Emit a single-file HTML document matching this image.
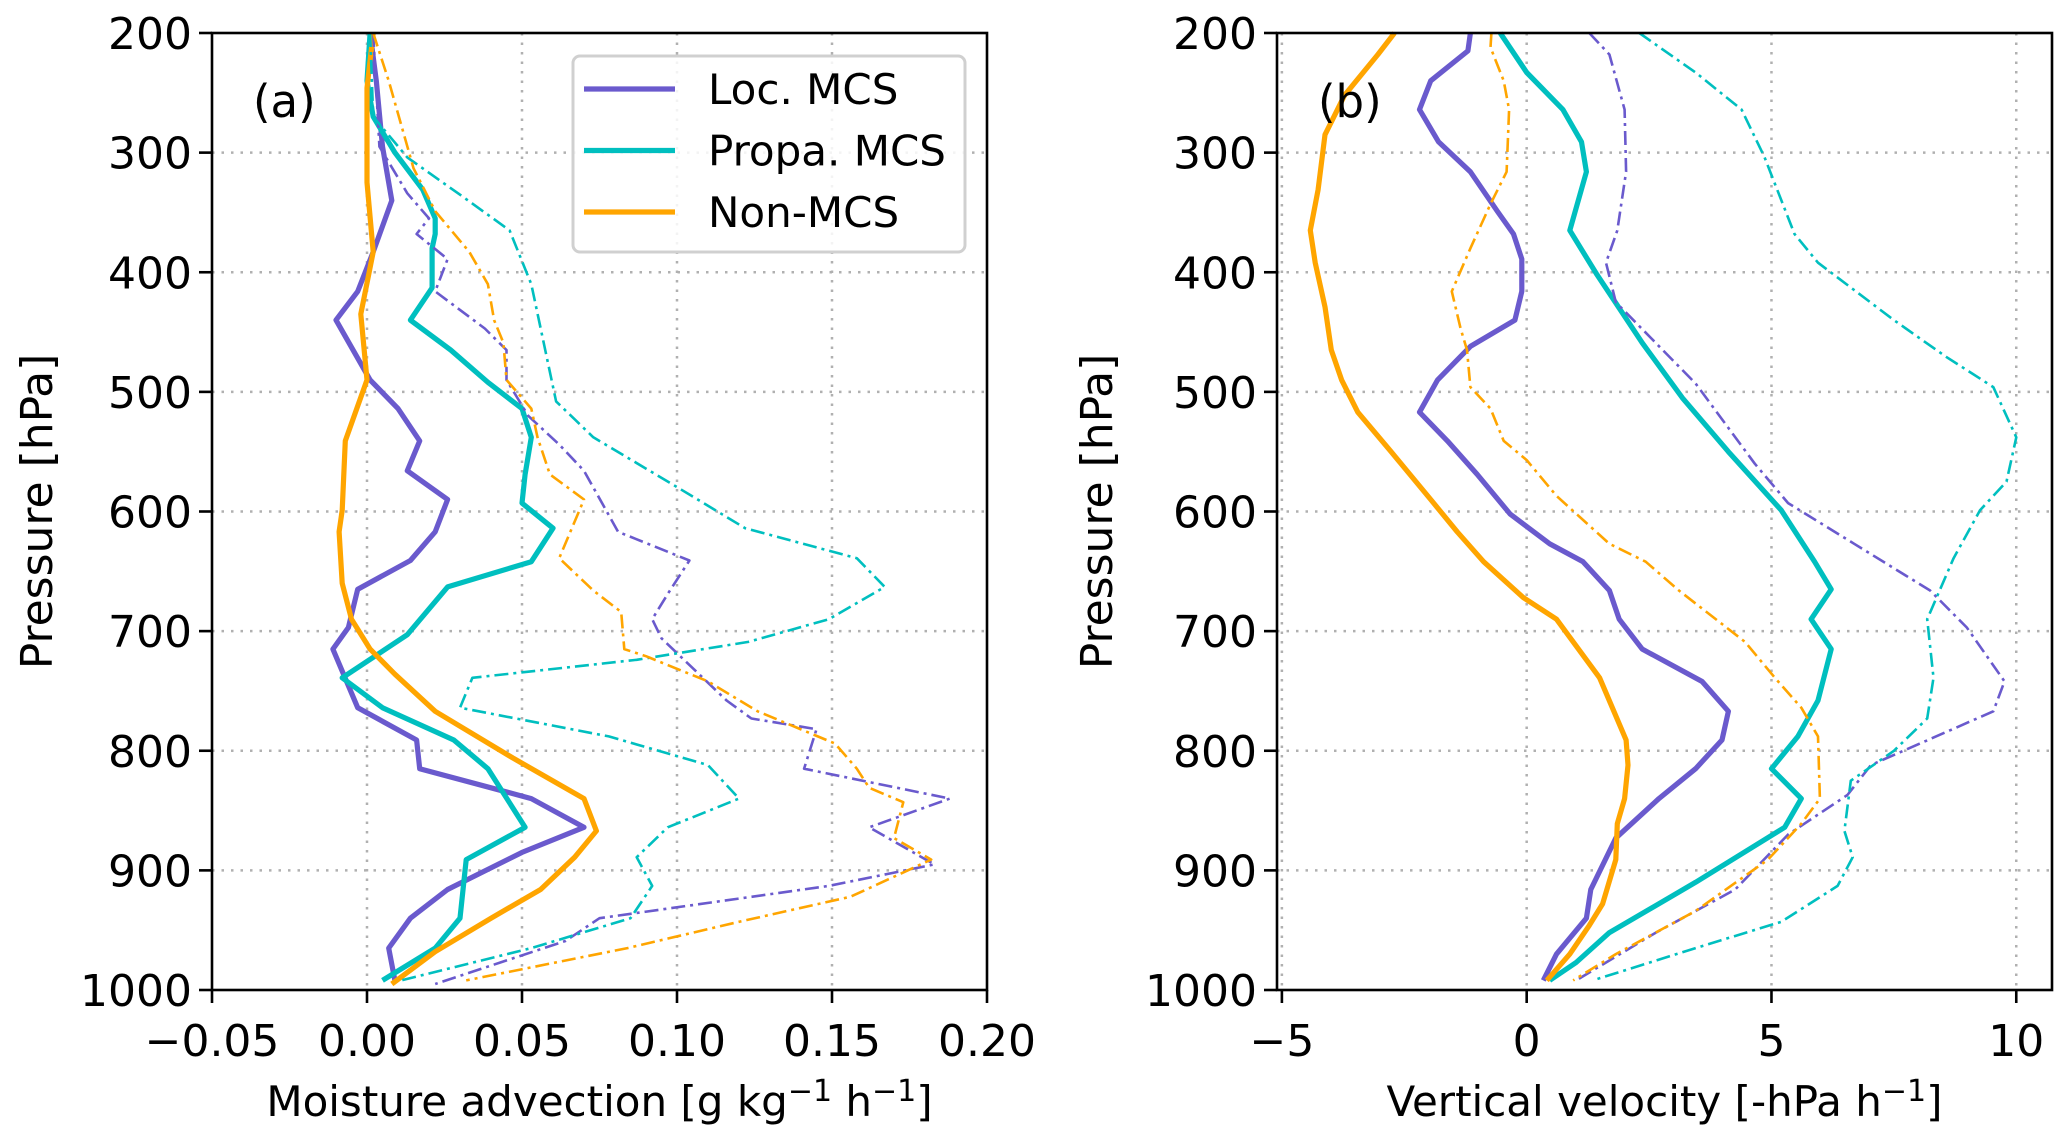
<!DOCTYPE html>
<html><head><meta charset="utf-8"><style>
html,body{margin:0;padding:0;background:#fff}
svg{display:block;font-family:"DejaVu Sans","Liberation Sans",sans-serif}
</style></head><body>
<svg id="chart" width="2067" height="1141" viewBox="0 0 2067 1141" xmlns="http://www.w3.org/2000/svg"></svg>
<script>
// ---- data ----
const pressureTicks = [200,300,400,500,600,700,800,900,1000];
const xTicksA = [-0.05,0,0.05,0.10,0.15,0.20];
const xTickLabelsA = ["\u22120.05","0.00","0.05","0.10","0.15","0.20"];
const xTicksB = [-5,0,5,10];
const xTickLabelsB = ["\u22125","0","5","10"];
const seriesNames = ["Loc. MCS","Propa. MCS","Non-MCS"];

// Panel (a) moisture advection
const aLocP = [200,240,295,340,383,416,440,490,514,541,566,590,617,641,665,697,715,764,791,815,840,864,885,916,940,965,992];
const aLocV = [0.001,0.003,0.005,0.008,0.002,-0.003,-0.010,0.001,0.010,0.017,0.013,0.026,0.022,0.014,-0.003,-0.006,-0.011,-0.003,0.016,0.017,0.053,0.070,0.050,0.026,0.014,0.007,0.009];
const aPropP = [200,240,270,300,331,355,368,380,413,440,465,492,514,538,569,593,614,642,663,703,739,764,791,815,864,891,940,965,992];
const aPropV = [0.001,0.000,0.002,0.009,0.018,0.022,0.022,0.021,0.021,0.014,0.027,0.039,0.050,0.053,0.051,0.050,0.060,0.053,0.026,0.013,-0.008,0.005,0.028,0.039,0.051,0.032,0.030,0.022,0.005];
const aNonP = [200,246,325,383,435,490,541,599,617,660,690,715,736,767,806,840,867,889,916,940,968,995];
const aNonV = [0.002,0.000,0.000,0.002,-0.002,0.000,-0.007,-0.008,-0.009,-0.008,-0.005,0.001,0.009,0.022,0.047,0.070,0.074,0.067,0.056,0.040,0.022,0.008];
const aLocDP = [200,295,334,355,368,389,416,447,465,490,520,544,566,617,641,669,690,706,758,773,782,815,840,864,895,913,940,959,977,995];
const aLocDV = [0.002,0.004,0.013,0.020,0.016,0.026,0.022,0.038,0.045,0.045,0.052,0.062,0.070,0.081,0.104,0.097,0.092,0.095,0.116,0.124,0.145,0.141,0.188,0.162,0.183,0.149,0.075,0.064,0.043,0.022];
const aPropDP = [200,270,304,337,365,410,508,538,578,614,639,663,690,709,724,739,764,788,812,840,864,889,913,940,965,992];
const aPropDV = [0.001,0.002,0.013,0.031,0.046,0.053,0.061,0.073,0.099,0.122,0.158,0.167,0.149,0.123,0.087,0.034,0.030,0.078,0.110,0.120,0.097,0.087,0.092,0.085,0.053,0.011];
const aNonDP = [200,240,313,349,383,410,440,459,490,514,538,569,590,639,666,684,715,721,742,767,794,815,831,843,873,891,922,943,965,992];
const aNonDV = [0.002,0.007,0.015,0.022,0.033,0.039,0.041,0.044,0.045,0.053,0.055,0.059,0.070,0.062,0.073,0.082,0.083,0.090,0.110,0.126,0.151,0.158,0.162,0.173,0.170,0.182,0.156,0.120,0.084,0.032];

// Panel (b) vertical velocity
const bLocP = [200,215,240,264,291,316,349,368,389,416,440,462,490,517,541,569,602,627,642,666,690,715,742,767,791,815,840,873,916,940,970,992];
const bLocV = [-1.15,-1.2,-1.96,-2.19,-1.8,-1.15,-0.6,-0.27,-0.1,-0.1,-0.24,-1.15,-1.82,-2.19,-1.62,-1.01,-0.34,0.47,1.15,1.69,1.89,2.36,3.58,4.12,3.99,3.45,2.7,1.82,1.31,1.22,0.61,0.34];
const bPropP = [200,233,264,291,316,365,401,459,505,550,599,642,665,690,715,758,788,815,840,864,910,952,977,992];
const bPropV = [-0.54,0,0.74,1.12,1.22,0.88,1.42,2.36,3.18,4.12,5.2,5.88,6.22,5.81,6.22,5.95,5.54,5.0,5.61,5.27,3.45,1.69,1.01,0.47];
const bNonP = [200,218,252,285,331,365,392,429,465,490,517,550,590,617,642,672,690,739,791,812,840,861,891,928,946,970,992];
const bNonV = [-2.7,-3.04,-3.72,-4.12,-4.26,-4.42,-4.32,-4.12,-3.99,-3.78,-3.45,-2.77,-1.96,-1.42,-0.88,-0.07,0.61,1.49,2.03,2.07,2.0,1.85,1.82,1.55,1.28,0.88,0.41];
const bLocDP = [200,218,264,316,365,392,425,493,560,593,627,666,697,742,767,812,837,870,916,952,992];
const bLocDV = [1.28,1.69,2.0,2.03,1.85,1.62,1.82,3.45,4.66,5.34,6.69,8.24,8.99,9.76,9.53,7.03,6.55,5.34,4.26,2.64,1.01];
const bPropDP = [200,233,264,304,368,392,440,471,496,538,575,599,639,690,739,773,800,825,867,889,913,943,965,992];
const bPropDV = [2.3,3.45,4.39,4.86,5.47,5.95,7.5,8.58,9.53,10.0,9.8,9.26,8.72,8.18,8.31,8.18,7.5,6.62,6.49,6.66,6.35,5.2,3.45,1.35];
const bNonDP = [200,212,240,264,316,343,380,416,447,465,496,514,541,557,587,627,642,666,709,739,764,788,840,861,891,934,970,992];
const bNonDV = [-0.72,-0.74,-0.47,-0.36,-0.41,-0.74,-1.15,-1.53,-1.35,-1.22,-1.15,-0.74,-0.47,0,0.61,1.69,2.43,3.11,4.46,5.07,5.61,5.95,5.99,5.61,4.93,3.45,1.82,0.95];

const COLORS = ["#6a5acd","#00bfbf","#ffa500"];
const NS = "http://www.w3.org/2000/svg";
const svg = document.getElementById("chart");
function mk(tag, attrs, parent){
  const e = document.createElementNS(NS, tag);
  for (const k in attrs) e.setAttribute(k, attrs[k]);
  (parent||svg).appendChild(e);
  return e;
}
const TOP = 33, BOT = 990;
const FS = 44;
function yScale(p){ return TOP + (p-200)/800*(BOT-TOP); }

function panel(cfg){
  const g = mk("g", {});
  
  
  const xs = v => cfg.x0 + (v-cfg.xmin)/(cfg.xmax-cfg.xmin)*(cfg.x1-cfg.x0);
  const grid = mk("g", {}, g);
  
  
  cfg.xt.forEach(v => { const x = xs(v); if (x>cfg.x0+2 && x<cfg.x1-2) mk("line",{x1:x,x2:x,y1:TOP,y2:BOT,stroke:"#b0b0b0","stroke-width":2.5,"stroke-dasharray":"2.5,7"},grid); });
  pressureTicks.forEach(p => { const y = yScale(p); if (y>TOP+2 && y<BOT-2) mk("line",{x1:cfg.x0,x2:cfg.x1,y1:y,y2:y,stroke:"#b0b0b0","stroke-width":2.5,"stroke-dasharray":"2.5,7"},grid); });
  cfg.series.forEach((s, i) => {
    const pts = s.p.map((p,j) => xs(s.v[j]).toFixed(1)+","+yScale(p).toFixed(1)).join(" ");
    const pl = mk("polyline", {points:pts, fill:"none", stroke:COLORS[s.c], "stroke-width": s.dash?2.6:5.2, "stroke-linejoin":"round", "stroke-dasharray": s.dash?"14,5,3,5":"none"}, g);
    
    
  });
  const fr = mk("rect", {x:cfg.x0,y:TOP,width:cfg.x1-cfg.x0,height:BOT-TOP,fill:"none",stroke:"#000","stroke-width":2.6}, g);
  
  
  cfg.xt.forEach((v,i) => {
    const x = xs(v);
    mk("line",{x1:x,x2:x,y1:BOT,y2:BOT+13,stroke:"#000","stroke-width":2.6},g);
    const t = mk("text",{x:x,y:BOT+66,"font-size":FS,"text-anchor":"middle",fill:"#000"},g);
    t.textContent = cfg.xl[i];
    
    
  });
  pressureTicks.forEach(p => {
    const y = yScale(p);
    mk("line",{x1:cfg.x0-13,x2:cfg.x0,y1:y,y2:y,stroke:"#000","stroke-width":2.6},g);
    const t = mk("text",{x:cfg.x0-20,y:y+16,"font-size":FS,"text-anchor":"end",fill:"#000"},g);
    t.textContent = p;
    
    
  });
  const yl = mk("text",{x:0,y:0,"font-size":FS,"text-anchor":"middle",fill:"#000",transform:`translate(${cfg.ylx},${(TOP+BOT)/2}) rotate(-90)`},g);
  yl.textContent = "Pressure [hPa]";
  
  
  const xl = mk("text",{x:(cfg.x0+cfg.x1)/2,y:1116,"font-size":42,"text-anchor":"middle",fill:"#000"},g);
  xl.innerHTML = cfg.xlabel;
  
  
  const pl = mk("text",{x:cfg.x0+41,y:117,"font-size":45,fill:"#000"},g);
  pl.textContent = cfg.tag;
  
  
}

panel({name:"panel-a-moisture-advection", x0:212, x1:987, xmin:-0.05, xmax:0.20, xt:xTicksA, xl:xTickLabelsA, ylx:52, tag:"(a)",
  xlabel:'Moisture advection [g kg<tspan dy="-15" font-size="30">\u22121</tspan><tspan dy="15"> h</tspan><tspan dy="-15" font-size="30">\u22121</tspan><tspan dy="15">]</tspan>',
  series:[
    {name:"loc-mcs-line",p:aLocP,v:aLocV,c:0},{name:"propa-mcs-line",p:aPropP,v:aPropV,c:1},{name:"non-mcs-line",p:aNonP,v:aNonV,c:2},
    {name:"loc-mcs-dashdot",p:aLocDP,v:aLocDV,c:0,dash:1},{name:"propa-mcs-dashdot",p:aPropDP,v:aPropDV,c:1,dash:1},{name:"non-mcs-dashdot",p:aNonDP,v:aNonDV,c:2,dash:1}]});
panel({name:"panel-b-vertical-velocity", x0:1277, x1:2052, xmin:-5.1, xmax:10.73, xt:xTicksB, xl:xTickLabelsB, ylx:1112, tag:"(b)",
  xlabel:'Vertical velocity [-hPa h<tspan dy="-15" font-size="30">\u22121</tspan><tspan dy="15">]</tspan>',
  series:[
    {name:"loc-mcs-line",p:bLocP,v:bLocV,c:0},{name:"propa-mcs-line",p:bPropP,v:bPropV,c:1},{name:"non-mcs-line",p:bNonP,v:bNonV,c:2},
    {name:"loc-mcs-dashdot",p:bLocDP,v:bLocDV,c:0,dash:1},{name:"propa-mcs-dashdot",p:bPropDP,v:bPropDV,c:1,dash:1},{name:"non-mcs-dashdot",p:bNonDP,v:bNonDV,c:2,dash:1}]});

const lg = mk("g", {});


mk("rect",{x:573,y:56,width:392,height:196,rx:7,fill:"#fff","fill-opacity":0.85,stroke:"#d0d0d0","stroke-width":3},lg);
seriesNames.forEach((n,i) => {
  const y = 89 + i*61.5;
  const ln = mk("line",{x1:584,x2:675,y1:y,y2:y,stroke:COLORS[i],"stroke-width":5.2},lg);
  
  
  const t = mk("text",{x:708,y:y+15,"font-size":42,fill:"#000"},lg);
  t.textContent = n;
  
  
});
</script>
</body></html>
